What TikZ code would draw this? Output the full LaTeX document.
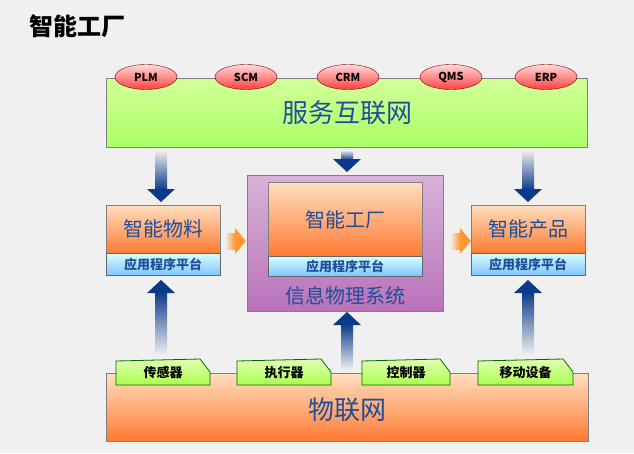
\documentclass[tikz,border=0pt]{standalone}
\usepackage{fontspec}
\setmainfont{Noto Sans CJK SC}
\usetikzlibrary{shapes.geometric}
\definecolor{tblue}{HTML}{1F4E9A}
\definecolor{dblue}{HTML}{0B3A8A}
\begin{document}
\begin{tikzpicture}[x=1pt,y=-1pt,
  big/.style={font=\fontsize{26}{28}\selectfont,text=tblue},
  mid/.style={font=\fontsize{20}{22}\selectfont,text=tblue},
  strip/.style={draw=black!60,top color=cyan!15,bottom color=cyan!55!blue!50},
  orangebox/.style={draw=black!50,top color=orange!25,bottom color=orange!70!red!80},
  oval/.style={ellipse,draw=red!50!black,top color=red!15,bottom color=red!75,minimum width=62pt,minimum height=25pt,inner sep=0pt,font=\bfseries\fontsize{11}{12}\selectfont},
  tabtxt/.style={font=\bfseries\fontsize{13}{14}\selectfont}]
\fill[gray!12] (0,0) rectangle (634,453);
\node[anchor=west,font=\bfseries\fontsize{24}{26}\selectfont] (title) at (26,26) {智能工厂};
\draw[draw=black!50,top color=green!25!lime!40,bottom color=lime!60!green!60] (106,78) rectangle (587,147);
\node[big] (svc) at (347,113) {服务互联网};
\foreach \x/\t/\n in {146/PLM/p,246/SCM/s,348/CRM/c,451/QMS/q,546/ERP/e}
  \node[oval] (o\n) at (\x,77) {\t};
\foreach \x/\a/\b in {161/150/202,347/150/172,528/150/202}{
  \shade[top color=gray!12,bottom color=dblue] (\x-6,\a) rectangle (\x+6,\b-12);
  \fill[dblue] (\x-14,\b-13) -- (\x+14,\b-13) -- (\x,\b) -- cycle;}
\foreach \x/\a/\b in {161/355/280,347/370/312,528/355/280}{
  \shade[bottom color=gray!12,top color=dblue] (\x-6,\a) rectangle (\x+6,\b+12);
  \fill[dblue] (\x-14,\b+13) -- (\x+14,\b+13) -- (\x,\b) -- cycle;}
\draw[orangebox] (106,205) rectangle (220,253);
\node[mid] (mat) at (163,229) {智能物料};
\draw[strip] (106,253) rectangle (220,275);
\node[tabtxt,text=tblue] (matp) at (163,264) {应用程序平台};
\draw[draw=black!50,top color=violet!30,bottom color=violet!55] (247,175) rectangle (443,311);
\draw[orangebox] (268,182) rectangle (422,256);
\node[mid] (fac) at (345,220) {智能工厂};
\draw[strip] (268,256) rectangle (422,276);
\node[tabtxt,text=tblue] (facp) at (345,266) {应用程序平台};
\node[mid] (cps) at (345,296) {信息物理系统};
\draw[orangebox] (471,205) rectangle (585,253);
\node[mid] (prd) at (528,229) {智能产品};
\draw[strip] (471,253) rectangle (585,275);
\node[tabtxt,text=tblue] (prdp) at (528,264) {应用程序平台};
\foreach \x in {225,450}{
  \shade[left color=gray!12,right color=orange!80] (\x,233) rectangle (\x+10,249);
  \fill[orange!80] (\x+10,228) -- (\x+10,254) -- (\x+21,241) -- cycle;}
\draw[orangebox] (106,373) rectangle (588,441);
\node[big] (iot) at (347,410) {物联网};
\foreach \a/\b/\t/\n in {116/210/传感器/t1,237/331/执行器/t2,362/450/控制器/t3,478/573/移动设备/t4}{
  \draw[draw=green!40!black,thick,top color=green!20!lime!30,bottom color=lime!70!green!70] (\a,361) -- (\b-10,359) -- (\b,372) -- (\b,385) -- (\a,385) -- cycle;
  \node[tabtxt] (\n) at ({(\a+\b)/2},373) {\t};}
\end{tikzpicture}
\end{document}
